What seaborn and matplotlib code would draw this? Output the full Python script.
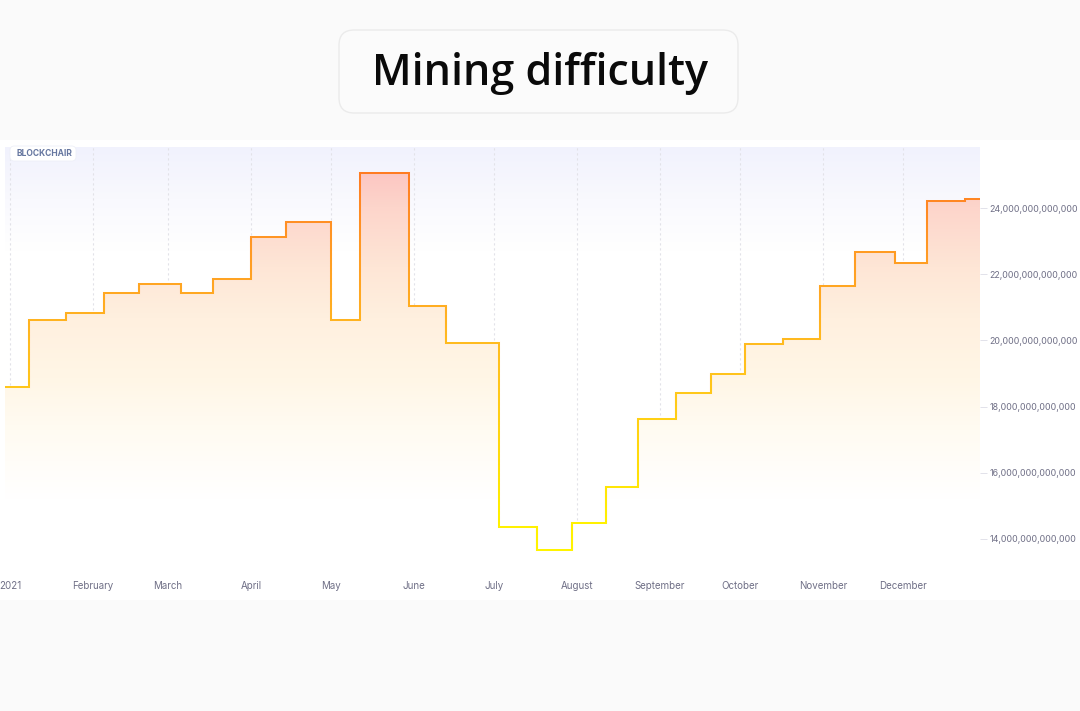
import numpy as np
import pandas as pd
import matplotlib
matplotlib.use("Agg")
import matplotlib.pyplot as plt
import matplotlib.dates as mdates
import seaborn as sns
from matplotlib.collections import LineCollection
from matplotlib.colors import LinearSegmentedColormap, Normalize
from matplotlib.patches import FancyBboxPatch, Rectangle
from matplotlib.ticker import FuncFormatter

# ---------------- data ----------------
title = "Mining difficulty"
badge = "BLOCKCHAIR"
change_dates = [
    "2020-12-30", "2021-01-08", "2021-01-22", "2021-02-05", "2021-02-18",
    "2021-03-06", "2021-03-18", "2021-04-01", "2021-04-14", "2021-05-01",
    "2021-05-12", "2021-05-30", "2021-06-13", "2021-07-03", "2021-07-17",
    "2021-07-30", "2021-08-12", "2021-08-24", "2021-09-07", "2021-09-20",
    "2021-10-03", "2021-10-17", "2021-10-31", "2021-11-13", "2021-11-28",
    "2021-12-10", "2021-12-24",
]
difficulty_trillion = [
    18.60, 20.61, 20.82, 21.43, 21.72,
    21.45, 21.87, 23.14, 23.58, 20.61,
    25.05, 21.05, 19.93, 14.36, 13.67,
    14.48, 15.56, 17.62, 18.40, 19.00,
    19.88, 20.05, 21.66, 22.67, 22.34,
    24.21, 24.27,
]
end_date = "2021-12-29T19:00"
month_ticks = ["2021-01-01", "2021-02-01", "2021-03-01", "2021-04-01", "2021-05-01",
               "2021-06-01", "2021-07-01", "2021-08-01", "2021-09-01", "2021-10-01",
               "2021-11-01", "2021-12-01"]
month_labels = ["2021", "February", "March", "April", "May", "June", "July",
                "August", "September", "October", "November", "December"]
y_ticks_trillion = [14, 16, 18, 20, 22, 24]
y_range_trillion = (12.91, 25.85)
x_range = ("2020-12-30", "2021-12-29T19:00")

# ---------------- build frame ----------------
dates = pd.to_datetime(change_dates + [end_date], format="ISO8601")
values = np.array(difficulty_trillion + [difficulty_trillion[-1]]) * 1e12
df = pd.DataFrame({"date": dates, "difficulty": values})

sns.set_theme(style="white")
plt.rcParams["font.family"] = ["Inter", "DejaVu Sans"]

W, H = 1080, 711
fig = plt.figure(figsize=(W / 100, H / 100), dpi=100, facecolor="#fafafa")

# white chart panel
fig.patches.append(Rectangle((0, 1 - 600 / H), 1, (600 - 140) / H,
                             transform=fig.transFigure, facecolor="white",
                             edgecolor="none", zorder=-5))

# title box
fig.patches.append(FancyBboxPatch((339 / W, 1 - 113 / H), (738 - 339) / W, (113 - 30) / H,
                                  boxstyle="round,pad=0,rounding_size=0.014",
                                  transform=fig.transFigure, facecolor="#fbfbfb",
                                  edgecolor="#ebebeb", lw=1.0, zorder=1,
                                  mutation_aspect=W / H))
fig.text(540 / W, 1 - 73 / H, title, ha="center", va="center", fontsize=31,
         fontweight="semibold", family=["Open Sans", "DejaVu Sans"],
         color="#0a0a0a", zorder=2)

ax = fig.add_axes([5 / W, 1 - 575 / H, 975 / W, 428 / H])
ax.set_facecolor("white")

ylo, yhi = y_range_trillion[0] * 1e12, y_range_trillion[1] * 1e12
xlo = mdates.date2num(pd.Timestamp(x_range[0]))
xhi = mdates.date2num(pd.Timestamp(x_range[1]))

# lavender top gradient background
bg_cmap = LinearSegmentedColormap.from_list("bg", [(0, "#ffffff"), (0.76, "#ffffff"),
                                                   (0.88, "#f9f9fe"), (1.0, "#f1f2fd")])
bg = np.linspace(0, 1, 256).reshape(-1, 1)
ax.imshow(bg, extent=[0, 1, 0, 1], transform=ax.transAxes, origin="lower",
          aspect="auto", cmap=bg_cmap, zorder=0, interpolation="bilinear")

# seaborn step line (base)
sns.lineplot(data=df, x="date", y="difficulty", drawstyle="steps-post",
             estimator=None, color="#ffb020", lw=1.4, ax=ax, zorder=3)

# gradient fill below line
xnum = mdates.date2num(df["date"])
poly = ax.fill_between(xnum, df["difficulty"], ylo, step="post",
                       facecolor="none", edgecolor="none", lw=0)
fill_cmap = LinearSegmentedColormap.from_list("fill", [
    (0.00, "#ffffff"), (0.18, "#ffffff"), (0.35, "#fffbf1"), (0.46, "#fff6e6"),
    (0.60, "#fff0df"), (0.72, "#fee6d6"), (0.86, "#fdd5cb"), (1.0, "#fbbcbc")])
grad = np.linspace(0, 1, 512).reshape(-1, 1)
im = ax.imshow(grad, extent=[xlo, xhi, ylo, yhi], origin="lower", aspect="auto",
               cmap=fill_cmap, zorder=1)
im.set_clip_path(poly.get_paths()[0], transform=ax.transData)

# gradient-coloured line on top
line_cmap = LinearSegmentedColormap.from_list("line", [
    (0.00, "#fff500"), (0.10, "#fff000"), (0.25, "#ffdc0a"), (0.42, "#ffc81a"),
    (0.55, "#ffbb1f"), (0.68, "#ffa822"), (0.82, "#ff9624"), (1.0, "#ff7a22")])
norm = Normalize(13.5e12, 25.2e12)
segs, cols = [], []
v = df["difficulty"].to_numpy()
for i in range(len(xnum) - 1):
    segs.append([(xnum[i], v[i]), (xnum[i + 1], v[i])])
    cols.append(v[i])
    if v[i + 1] != v[i]:
        ys = np.linspace(v[i], v[i + 1], 40)
        for a, b in zip(ys[:-1], ys[1:]):
            segs.append([(xnum[i + 1], a), (xnum[i + 1], b)])
            cols.append((a + b) / 2)
lc = LineCollection(segs, cmap=line_cmap, norm=norm, linewidths=1.45,
                    capstyle="projecting", joinstyle="miter", zorder=4)
lc.set_array(np.array(cols))
ax.add_collection(lc)

ax.set_xlim(xlo, xhi)
ax.set_ylim(ylo, yhi)

# axes styling
for s in ax.spines.values():
    s.set_visible(False)
ax.set_xlabel("")
ax.set_ylabel("")
ax.set_xticks(mdates.date2num(pd.to_datetime(month_ticks)))
ax.set_xticklabels(month_labels)
ax.set_yticks([t * 1e12 for t in y_ticks_trillion])
ax.yaxis.set_major_formatter(FuncFormatter(lambda val, pos: f"{val:,.0f}"))
ax.yaxis.tick_right()
ax.tick_params(axis="x", length=0, pad=4.5, labelsize=7, labelcolor="#6f6f86")
ax.tick_params(axis="y", length=5, width=0.7, color="#e2e2ea", pad=2,
               labelsize=6.4, labelcolor="#6f6f86")
ax.grid(axis="x", color="#e2e2e8", linestyle=(0, (2, 2.5)), lw=0.8)
ax.grid(axis="y", visible=False)
for gl in ax.get_xgridlines():
    gl.set_zorder(0.5)

# badge
fig.patches.append(FancyBboxPatch((10 / W, 1 - 161 / H), 66 / W, 15 / H,
                                  boxstyle="round,pad=0,rounding_size=0.004",
                                  transform=fig.transFigure, facecolor="white",
                                  edgecolor="#eef0f8", lw=0.6, zorder=5,
                                  mutation_aspect=W / H))
fig.text(44 / W, 1 - 153.5 / H, badge, ha="center", va="center", fontsize=6.1,
         fontweight="bold", color="#6677a0", zorder=6)

fig.savefig("out.png", dpi=100, facecolor=fig.get_facecolor())
